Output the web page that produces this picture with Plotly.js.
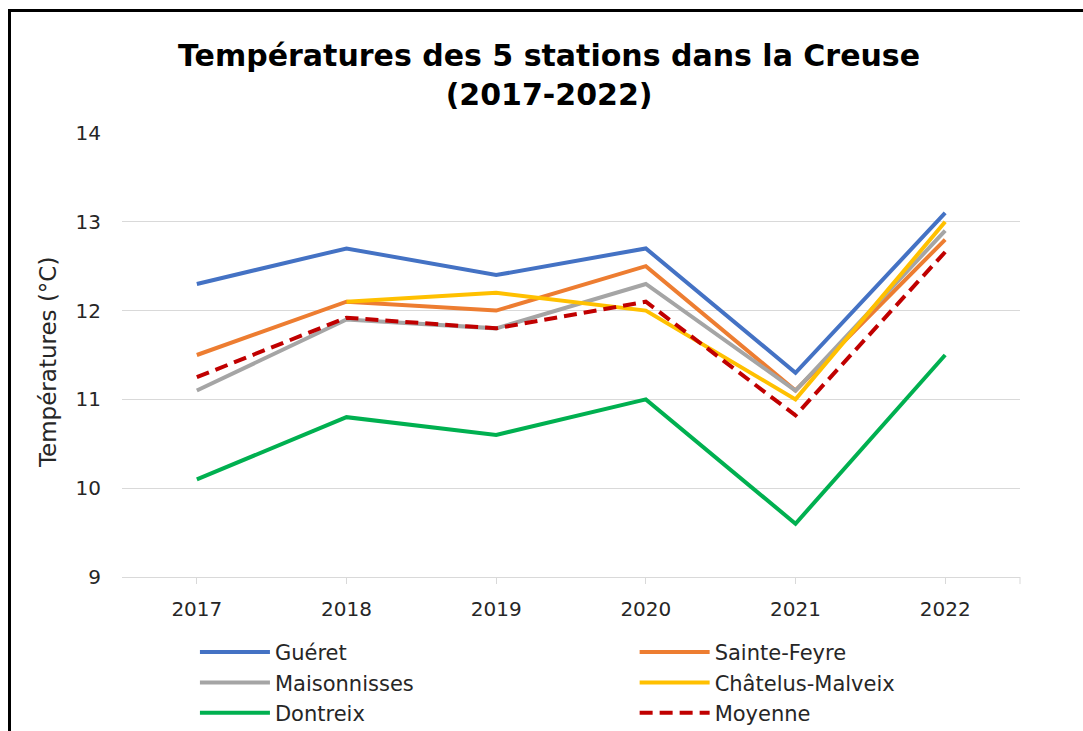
<!DOCTYPE html>
<html>
<head>
<meta charset="utf-8">
<script src="https://cdn.plot.ly/plotly-3.0.1.min.js"></script>
<style>
  html, body { margin: 0; padding: 0; background: #fff; overflow: hidden; }
  #chart { position: absolute; left: 0; top: 0; width: 1083px; height: 731px; }
  #frame { position: absolute; left: 8px; top: 9px; width: 2000px; height: 2000px;
           border-left: 3px solid #000; border-top: 3px solid #000; pointer-events: none; }
</style>
</head>
<body>
<div id="chart"></div>
<div id="frame"></div>
<script>
const years = ['2017', '2018', '2019', '2020', '2021', '2022'];
const gueret = [12.3, 12.7, 12.4, 12.7, 11.3, 13.1];
const sainteFeyre = [11.5, 12.1, 12.0, 12.5, 11.1, 12.8];
const maisonnisses = [11.1, 11.9, 11.8, 12.3, 11.1, 12.9];
const chatelus = [null, 12.1, 12.2, 12.0, 11.0, 13.0];
const dontreix = [10.1, 10.8, 10.6, 11.0, 9.6, 11.5];
const moyenne = [11.25, 11.92, 11.8, 12.1, 10.82, 12.66];
const yTitle = 'Températures (°C)';

const FONT = 'DejaVu Sans, sans-serif';
function tr(name, y, color, legend, dash) {
  return {
    type: 'scatter', mode: 'lines', name: name, x: years, y: y,
    line: { color: color, width: 4, dash: dash || 'solid' },
    connectgaps: false, legend: legend
  };
}
const data = [
  tr('Guéret', gueret, '#4472C4', 'legend'),
  tr('Sainte-Feyre', sainteFeyre, '#ED7D31', 'legend2'),
  tr('Maisonnisses', maisonnisses, '#A5A5A5', 'legend'),
  tr('Châtelus-Malveix', chatelus, '#FFC000', 'legend2'),
  tr('Dontreix', dontreix, '#00B050', 'legend'),
  tr('Moyenne', moyenne, '#C00000', 'legend2', '13px,7px')
];

const legendCommon = {
  orientation: 'v', xref: 'container', yref: 'container',
  yanchor: 'top', xanchor: 'left', y: 0.1355,
  font: { family: FONT, size: 21, color: '#262626' },
  itemwidth: 70, tracegroupgap: 0, bgcolor: 'rgba(0,0,0,0)'
};

const layout = {
  width: 1083, height: 731,
  paper_bgcolor: '#fff', plot_bgcolor: '#fff',
  margin: { l: 122, r: 63, t: 133, b: 154, autoexpand: false },
  title: {
    text: '<b>Températures des 5 stations dans la Creuse<br>(2017-2022)</b>',
    font: { family: FONT, size: 30, color: '#000' },
    x: 0.507, xanchor: 'center', xref: 'container',
    y: 0.91, yanchor: 'top', yref: 'container'
  },
  xaxis: {
    type: 'category', range: [-0.5, 5.5],
    showgrid: false, showline: true, linecolor: '#d9d9d9', linewidth: 1,
    ticks: 'outside', ticklen: 6, tickcolor: '#d9d9d9',
    ticklabelstandoff: 8, tickangle: 0,
    tickfont: { family: FONT, size: 20, color: '#262626' },
    zeroline: false, fixedrange: true
  },
  yaxis: {
    range: [9, 14], dtick: 1, tick0: 9,
    showgrid: true, gridcolor: '#d9d9d9', gridwidth: 1,
    showline: false, zeroline: false,
    ticks: 'outside', ticklen: 16, tickcolor: 'rgba(0,0,0,0)',
    tickfont: { family: FONT, size: 20, color: '#262626' },
    fixedrange: true
  },
  annotations: [{
    text: yTitle, textangle: -90, showarrow: false,
    xref: 'paper', yref: 'paper', x: -0.0824, y: 0.484,
    xanchor: 'center', yanchor: 'middle',
    font: { family: FONT, size: 23, color: '#262626' }
  }],
  showlegend: true,
  legend: Object.assign({}, legendCommon, { x: 0.18 }),
  legend2: Object.assign({}, legendCommon, { x: 0.586 }),
  shapes: [{
    type: 'line', xref: 'paper', yref: 'paper', x0: 1, x1: 1, y0: 0, y1: -0.016,
    line: { color: '#d9d9d9', width: 1 }
  }]
};

Plotly.newPlot('chart', data, layout, { displayModeBar: false, responsive: false });
</script>
</body>
</html>
